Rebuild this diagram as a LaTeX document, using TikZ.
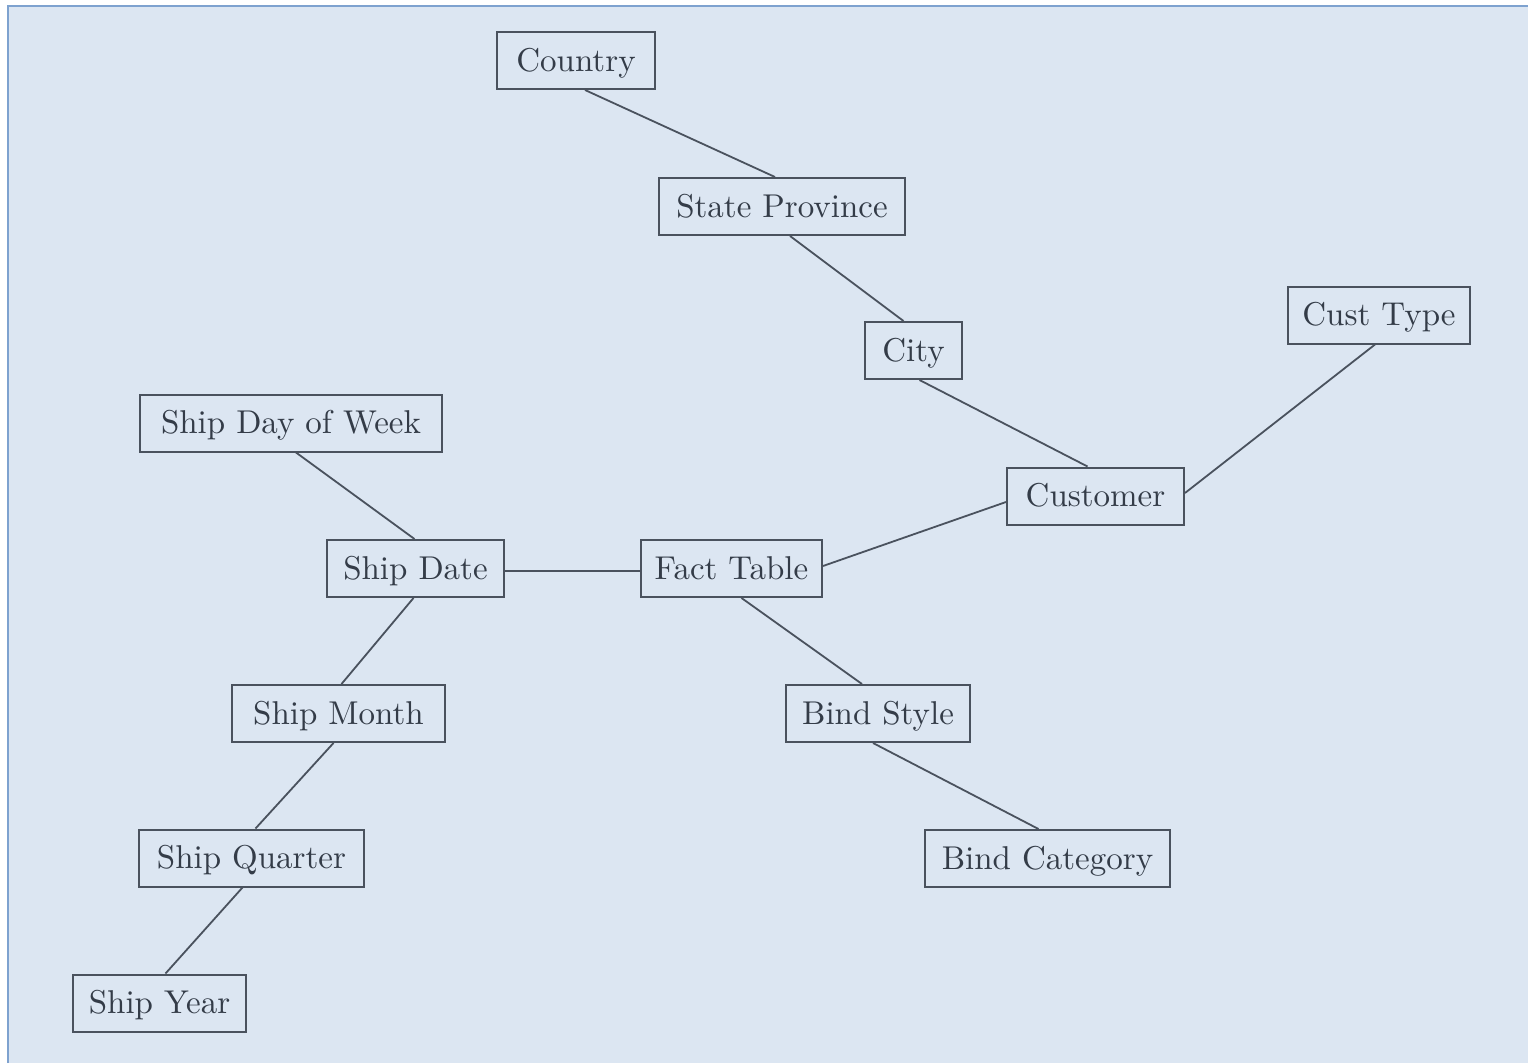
\documentclass[tikz,border=0pt]{standalone}
\usepackage{fontspec}
\usepackage{tikz}
\newfontfamily\dimfont{lmroman10-regular.otf}
\definecolor{panel}{HTML}{DCE6F2}
\definecolor{paneledge}{HTML}{7EA2CF}
\definecolor{ink}{HTML}{4A525E}
\definecolor{txt}{HTML}{343C48}
\tikzset{
  dim/.style={draw=ink, line width=2pt, fill=panel, text=txt,
    minimum height=57pt, inner sep=0pt, anchor=center,
    text depth=0pt, text height=0pt,
    font=\dimfont\fontsize{33}{40}\selectfont},
  link/.style={draw=ink, line width=1.8pt}
}
\newcommand{\lbl}[1]{\raisebox{-10.5pt}[0pt][0pt]{#1}}
\begin{document}
\begin{tikzpicture}[x=1pt,y=-1pt]
\useasboundingbox (0,0) rectangle (1528,1063);
% panel with blue top and left edges
\fill[white] (0,0) rectangle (1528,1063);
\fill[panel] (8,6) rectangle (1528,1063);
\draw[paneledge, line width=2.5pt] (8,1063) -- (8,6) -- (1528,6);

% dimension boxes
\node[dim, minimum width=158pt] (country) at (576,60.5) {\lbl{Country}};
\node[dim, minimum width=246pt] (state) at (782,206.5) {\lbl{State Province}};
\node[dim, minimum width=97pt] (city) at (913.5,350.5) {\lbl{City}};
\node[dim, minimum width=182pt] (custtype) at (1379,315) {\lbl{Cust Type}};
\node[dim, minimum width=302pt] (dow) at (291,423) {\lbl{Ship Day of Week}};
\node[dim, minimum width=177pt] (customer) at (1095.5,496) {\lbl{Customer}};
\node[dim, minimum width=177pt] (shipdate) at (415.5,568.5) {\lbl{Ship Date}};
\node[dim, minimum width=181pt] (fact) at (731.5,568.5) {\lbl{Fact Table}};
\node[dim, minimum width=213pt] (month) at (338.5,713.5) {\lbl{Ship Month}};
\node[dim, minimum width=184pt] (bindstyle) at (878,713.5) {\lbl{Bind Style}};
\node[dim, minimum width=225pt] (quarter) at (251.5,858) {\lbl{Ship Quarter}};
\node[dim, minimum width=245pt] (bindcat) at (1047.5,858.5) {\lbl{Bind Category}};
\node[dim, minimum width=173pt] (year) at (159.5,1003) {\lbl{Ship Year}};

% hierarchy links
\draw[link] ([xshift=9pt]country.south) -- ([xshift=-7pt]state.north);
\draw[link] ([xshift=8pt]state.south) -- ([xshift=-10pt]city.north);
\draw[link] ([xshift=6pt]city.south) -- ([xshift=-8pt]customer.north);
\draw[link] ([xshift=-4pt]custtype.south) -- ([yshift=3pt]customer.east);
\draw[link] ([xshift=5pt]dow.south) -- ([xshift=-1pt]shipdate.north);
\draw[link] ([yshift=-2.5pt]shipdate.east) -- ([yshift=-2.5pt]fact.west);
\draw[link] ([yshift=2.5pt]fact.east) -- ([yshift=-6pt]customer.west);
\draw[link] ([xshift=-2pt]shipdate.south) -- ([xshift=3pt]month.north);
\draw[link] ([xshift=-5pt]month.south) -- ([xshift=4pt]quarter.north);
\draw[link] ([xshift=-9pt]quarter.south) -- ([xshift=6pt]year.north);
\draw[link] ([xshift=10pt]fact.south) -- ([xshift=-16pt]bindstyle.north);
\draw[link] ([xshift=-5pt]bindstyle.south) -- ([xshift=-9pt]bindcat.north);
\end{tikzpicture}
\end{document}
